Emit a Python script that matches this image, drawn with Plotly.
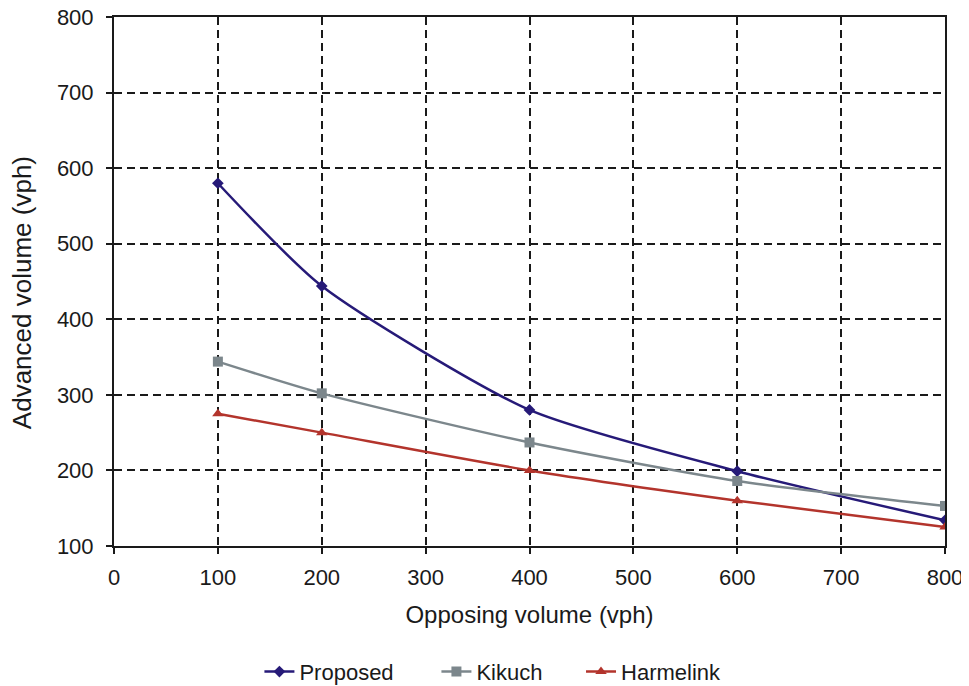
import plotly.graph_objects as go

opposing = [100, 200, 400, 600, 800]
proposed = [580, 444, 280, 199, 134]
kikuch = [344, 302, 237, 186, 153]
harmelink = [275, 250, 200, 160, 125]

x_ticks = [0, 100, 200, 300, 400, 500, 600, 700, 800]
y_ticks = [100, 200, 300, 400, 500, 600, 700, 800]

FONT = "Liberation Sans, Arial, sans-serif"
INK = "#1a1a1a"

series = [
    ("Proposed", proposed, "#261a78", "diamond", 9, "legend", 0.175),
    ("Kikuch", kikuch, "#7c878c", "square", 10, "legend2", 0.388),
    ("Harmelink", harmelink, "#b3342c", "triangle-up", 10, "legend3", 0.562),
]

fig = go.Figure()
legends = {}
for name, vals, color, sym, size, leg, lx in series:
    fig.add_trace(go.Scatter(
        x=opposing, y=vals, name=name, mode="lines+markers",
        line=dict(color=color, width=2.5, shape="spline", smoothing=0.65),
        marker=dict(symbol=sym, size=size, color=color),
        legend=leg,
    ))
    legends[leg] = dict(orientation="h", x=lx, xanchor="left",
                        yref="container", y=0.021, yanchor="middle",
                        font=dict(family=FONT, size=22, color=INK),
                        bgcolor="rgba(0,0,0,0)")

axis_common = dict(
    showline=True, linecolor=INK, linewidth=2, mirror=True,
    showgrid=True, gridcolor=INK, griddash="8px,5px", gridwidth=2,
    ticks="outside", ticklen=6, tickcolor=INK, tickwidth=2,
    zeroline=False, automargin=False, ticklabeloverflow="allow",
    tickfont=dict(family=FONT, size=22, color=INK),
)

fig.update_xaxes(range=[0, 800], tickvals=x_ticks, title_text="Opposing volume (vph)",
                 title_standoff=17, ticklabelstandoff=5,
                 title_font=dict(family=FONT, size=24, color=INK),
                 **axis_common)
fig.update_yaxes(range=[100, 800], tickvals=y_ticks, ticklabelstandoff=8,
                 **axis_common)

fig.add_annotation(
    text="Advanced volume (vph)", textangle=-90,
    xref="paper", yref="paper", x=(14 - 106) / 831, y=0.478,
    xanchor="center", yanchor="middle", showarrow=False,
    font=dict(family=FONT, size=26, color=INK),
)

fig.update_layout(
    width=961, height=678,
    margin=dict(l=106, r=24, t=9, b=140),
    plot_bgcolor="white", paper_bgcolor="white",
    showlegend=True,
    **legends,
)

fig.write_html("out.html")
